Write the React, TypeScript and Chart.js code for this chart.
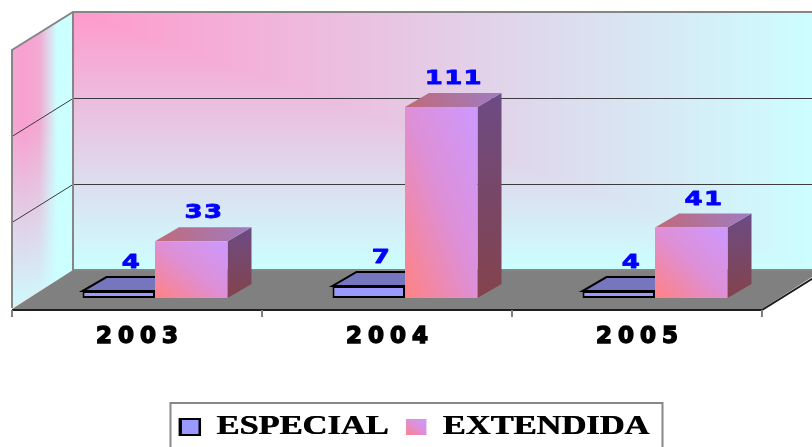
import React, { useEffect, useRef } from "react";
import { Chart, registerables } from "chart.js";

Chart.register(...registerables);

// ---------------- data ----------------
const categories = ["2003", "2004", "2005"];
const especialValues = [4, 7, 4];
const extendidaValues = [33, 111, 41];
const seriesLabels = ["ESPECIAL", "EXTENDIDA"];
const yTicks = [0, 50, 100, 150];

// ---------------- geometry / style ----------------
const W = 812;
const H = 447;
const CAT_PCT = 0.58;
const FX = 18; // bar front plane offset from the front edge of the plot box
const FY = 10;
const DX = 61; // full depth of the plot box
const DY = 38;
const BX = 24; // bar depth
const BY = 14;
const PINK = "#FF99CC";
const CYAN = "#CCFFFF";
const MID = "#E4CDE6";
const LEGEND_FONT = 27;
const BOX_W = 15;
const BOX_H = 16;
const LEG_SX = 1.275; // horizontal stretch of the legend
const LEG_CX = 414.5; // centre of that stretch
const LEG_DX = 9.5;
const LEG_DY = 3.5;
const TICK_SPACING = "6px";

function diagGradient(ctx: CanvasRenderingContext2D, x0: number, yT: number, x1: number, yB: number, stops: [number, string][]) {
  const w = x1 - x0;
  const h = yB - yT;
  const k = (2 * w * h) / (w * w + h * h || 1);
  const g = ctx.createLinearGradient(x0, yB, x0 + h * k, yB - w * k);
  stops.forEach(([o, c]) => g.addColorStop(o, c));
  return g;
}

const FRONT_STOPS: [number, string][] = [
  [0, "#FF8282"],
  [0.5, "#DE8FD6"],
  [1, "#CC99FF"],
];

function extFront(c: any) {
  const chart = c.chart;
  if (c.type !== "data" || !chart.chartArea || !chart.scales.x) return "#E08CCF";
  const xs = chart.scales.x;
  const ys = chart.scales.y;
  const catW = (xs.right - xs.left) / categories.length;
  const bw = (catW * CAT_PCT) / 2;
  const cx = xs.getPixelForValue(c.dataIndex);
  const yT = ys.getPixelForValue(c.raw);
  const yB = ys.getPixelForValue(0);
  return diagGradient(chart.ctx, cx, yT, cx + bw, yB, FRONT_STOPS);
}

function cornerFill(ctx: CanvasRenderingContext2D, x0: number, y0: number, w: number, h: number) {
  const gh = ctx.createLinearGradient(x0, 0, x0 + w, 0);
  gh.addColorStop(0, PINK);
  gh.addColorStop(0.5, MID);
  gh.addColorStop(1, CYAN);
  ctx.fillStyle = gh;
  ctx.fillRect(x0, y0, w, h);
  ctx.save();
  ctx.beginPath();
  ctx.moveTo(x0, y0);
  ctx.lineTo(x0 + w, y0 + h);
  ctx.lineTo(x0, y0 + h);
  ctx.closePath();
  ctx.clip();
  const gv = ctx.createLinearGradient(0, y0, 0, y0 + h);
  gv.addColorStop(0, PINK);
  gv.addColorStop(0.5, MID);
  gv.addColorStop(1, CYAN);
  ctx.fillStyle = gv;
  ctx.fillRect(x0, y0, w, h);
  ctx.restore();
}

function legX(x: number) {
  return LEG_CX + LEG_SX * (x - LEG_CX);
}

function stretchLegend(ctx: CanvasRenderingContext2D, shift: number) {
  ctx.translate(LEG_CX + shift, 0);
  ctx.scale(LEG_SX, 1);
  ctx.translate(-LEG_CX, 0);
}

const plot3d = {
  id: "plot3d",
  beforeLayout(chart: any) {
    chart.ctx.letterSpacing = "0px";
  },
  afterLayout(chart: any) {
    const lg = chart.legend;
    if (lg) {
      lg.left += LEG_DX;
      lg.right += LEG_DX;
      lg.top += LEG_DY;
      lg.bottom += LEG_DY;
    }
  },
  beforeDraw(chart: any) {
    const ctx: CanvasRenderingContext2D = chart.ctx;
    ctx.letterSpacing = "0px";
    // the legend (the only visible item drawn before the datasets) is stretched horizontally
    ctx.save();
    stretchLegend(ctx, 0);
  },
  beforeDatasetsDraw(chart: any) {
    const ctx: CanvasRenderingContext2D = chart.ctx;
    ctx.restore();
    // second, slightly offset pass of the legend for a heavier face
    if (chart.legend) {
      ctx.save();
      stretchLegend(ctx, 0.8);
      chart.legend.draw(chart.chartArea);
      ctx.restore();
    }
    const xs = chart.scales.x;
    const ys = chart.scales.y;
    const a = chart.chartArea;
    const fl = a.left - FX;
    const fr = a.right - FX;
    const fy = (v: number) => ys.getPixelForValue(v) + FY;
    const f0 = fy(0);
    const fTop = fy(yTicks[yTicks.length - 1]);
    const bl = fl + DX;
    const br = fr + DX;
    const b0 = f0 - DY;
    const bTop = fTop - DY;

    ctx.save();
    // back wall
    cornerFill(ctx, bl, bTop, br - bl, b0 - bTop);
    // left wall
    ctx.save();
    ctx.beginPath();
    ctx.moveTo(fl, fTop);
    ctx.lineTo(bl, bTop);
    ctx.lineTo(bl, b0);
    ctx.lineTo(fl, f0);
    ctx.closePath();
    ctx.clip();
    const lgH = ctx.createLinearGradient(fl, 0, bl, 0);
    lgH.addColorStop(0, "#F5A6D2");
    lgH.addColorStop(0.2, "#F8A0CF");
    lgH.addColorStop(0.45, "#F2AAD3");
    lgH.addColorStop(0.62, "#DCDDEC");
    lgH.addColorStop(0.74, CYAN);
    lgH.addColorStop(1, CYAN);
    ctx.fillStyle = lgH;
    ctx.fillRect(fl, bTop, bl - fl, f0 - bTop);
    const lgV = ctx.createLinearGradient(0, fy(105), 0, f0);
    lgV.addColorStop(0, "rgba(204,255,255,0)");
    lgV.addColorStop(1, "rgba(204,255,255,0.95)");
    ctx.fillStyle = lgV;
    ctx.fillRect(fl, bTop, bl - fl, f0 - bTop);
    ctx.restore();

    // floor
    ctx.fillStyle = "#808080";
    ctx.beginPath();
    ctx.moveTo(fl, f0 + 1);
    ctx.lineTo(bl, b0);
    ctx.lineTo(br, b0);
    ctx.lineTo(fr, f0 + 1);
    ctx.closePath();
    ctx.fill();

    // gridlines
    ctx.strokeStyle = "#3c3c3c";
    ctx.lineWidth = 1;
    yTicks.slice(1, -1).forEach((v) => {
      const y = Math.round(fy(v)) + 0.5;
      ctx.beginPath();
      ctx.moveTo(fl, y);
      ctx.lineTo(bl, y - DY);
      ctx.lineTo(br, y - DY);
      ctx.stroke();
    });

    // wall edges
    ctx.strokeStyle = "#868686";
    ctx.lineWidth = 2;
    ctx.beginPath();
    ctx.moveTo(fl, f0);
    ctx.lineTo(fl, fTop);
    ctx.lineTo(bl, bTop);
    ctx.lineTo(br, bTop);
    ctx.moveTo(bl, bTop);
    ctx.lineTo(bl, b0);
    ctx.lineTo(br, b0);
    ctx.stroke();

    // front and right floor edges
    ctx.strokeStyle = "#1e1e1e";
    ctx.lineWidth = 2;
    ctx.beginPath();
    ctx.moveTo(fl, f0 + 2);
    ctx.lineTo(fr, f0 + 2);
    ctx.lineTo(br, b0 + 2);
    ctx.stroke();

    // category tick marks
    ctx.strokeStyle = "#808080";
    ctx.lineWidth = 2;
    for (let i = 0; i <= categories.length; i++) {
      const x = xs.getPixelForValue(i - 0.5) - FX;
      ctx.beginPath();
      ctx.moveTo(x, f0 + 2);
      ctx.lineTo(x, f0 + 9);
      ctx.stroke();
    }

    // bar side and top faces
    chart.data.datasets.forEach((ds: any, di: number) => {
      const meta = chart.getDatasetMeta(di);
      meta.data.forEach((el: any) => {
        const { x, y, base, width } = el.getProps(["x", "y", "base", "width"], true);
        const x0 = x - width / 2;
        const x1 = x + width / 2;
        // side
        ctx.beginPath();
        ctx.moveTo(x1, y);
        ctx.lineTo(x1 + BX, y - BY);
        ctx.lineTo(x1 + BX, base - BY);
        ctx.lineTo(x1, base);
        ctx.closePath();
        if (di === 0) {
          ctx.fillStyle = "#5A5A9E";
        } else {
          const gs = ctx.createLinearGradient(0, y - BY, 0, base);
          gs.addColorStop(0, "#6C4B84");
          gs.addColorStop(1, "#84434C");
          ctx.fillStyle = gs;
        }
        ctx.fill();
        // top
        ctx.beginPath();
        ctx.moveTo(x0, y);
        ctx.lineTo(x1, y);
        ctx.lineTo(x1 + BX, y - BY);
        ctx.lineTo(x0 + BX, y - BY);
        ctx.closePath();
        if (di === 0) {
          ctx.fillStyle = "#7676BE";
          ctx.fill();
          ctx.strokeStyle = "#000";
          ctx.lineWidth = 2;
          ctx.stroke();
        } else {
          const gt = ctx.createLinearGradient(x0, y, x1 + BX, y - BY);
          gt.addColorStop(0, "#C06A7A");
          gt.addColorStop(1, "#A07CC2");
          ctx.fillStyle = gt;
          ctx.fill();
        }
      });
    });
    ctx.restore();
  },
  afterDatasetsDraw(chart: any) {
    const ctx: CanvasRenderingContext2D = chart.ctx;
    ctx.save();
    ctx.letterSpacing = "1px";
    ctx.font = 'bold 20px "DejaVu Sans"';
    ctx.fillStyle = "#0000FF";
    ctx.strokeStyle = "#0000FF";
    ctx.lineWidth = 0.8;
    ctx.lineJoin = "round";
    ctx.textAlign = "center";
    ctx.textBaseline = "middle";
    chart.data.datasets.forEach((ds: any, di: number) => {
      const meta = chart.getDatasetMeta(di);
      meta.data.forEach((el: any, i: number) => {
        const { x, y } = el.getProps(["x", "y"], true);
        ctx.save();
        ctx.translate(x + 12, y - 28);
        ctx.scale(1.3, 1);
        const t = String(ds.data[i]);
        ctx.strokeText(t, 0.5, 0);
        ctx.fillText(t, 0.5, 0);
        ctx.restore();
      });
    });
    ctx.restore();
    ctx.letterSpacing = TICK_SPACING;
  },
  afterDraw(chart: any) {
    const ctx: CanvasRenderingContext2D = chart.ctx;
    ctx.letterSpacing = "0px";
    const lg = chart.legend;
    if (!lg || !lg.legendHitBoxes || lg.legendHitBoxes.length < 2) return;
    const h0 = lg.legendHitBoxes[0];
    const h1 = lg.legendHitBoxes[1];
    ctx.save();
    const bx = legX(h1.left);
    const bw = legX(h1.left + BOX_W) - bx + 1;
    const by = h1.top + Math.max((LEGEND_FONT - BOX_H) / 2, 0);
    ctx.fillStyle = diagGradient(ctx, bx, by, bx + bw, by + BOX_H, FRONT_STOPS);
    ctx.fillRect(bx, by, bw, BOX_H);
    // legend frame
    ctx.strokeStyle = "#888888";
    ctx.lineWidth = 2;
    const left = Math.round(legX(h0.left) - 10) + 0.5;
    const right = Math.round(legX(h1.left + h1.width) + 13) + 0.5;
    const top = Math.round(h0.top - 10.5);
    ctx.beginPath();
    ctx.moveTo(left, H + 5);
    ctx.lineTo(left, top);
    ctx.lineTo(right, top);
    ctx.lineTo(right, H + 5);
    ctx.stroke();
    ctx.restore();
  },
};

export default function App() {
  const ref = useRef<HTMLCanvasElement>(null);
  useEffect(() => {
    const canvas = ref.current;
    if (!canvas) return;
    const chart = new Chart(canvas, {
      type: "bar",
      data: {
        labels: categories,
        datasets: [
          {
            label: seriesLabels[0],
            data: especialValues,
            backgroundColor: "#9999FF",
            borderColor: "#000000",
            borderWidth: 2,
            borderSkipped: false,
            categoryPercentage: CAT_PCT,
            barPercentage: 1,
          },
          {
            label: seriesLabels[1],
            data: extendidaValues,
            backgroundColor: extFront as any,
            borderWidth: 0,
            categoryPercentage: CAT_PCT,
            barPercentage: 1,
          },
        ],
      },
      options: {
        responsive: false,
        animation: false,
        events: [],
        layout: { padding: { left: 30, right: 32, top: 40, bottom: 0 } },
        scales: {
          x: {
            grid: { display: false },
            border: { display: false },
            ticks: {
              z: 1,
              padding: 17,
              labelOffset: -FX + 3,
              color: "#000000",
              textStrokeColor: "#000000",
              textStrokeWidth: 1.5,
              font: { family: "DejaVu Sans", weight: "bold", size: 23 },
            },
            afterFit: (s: any) => {
              s.height = 98;
            },
          },
          y: { display: false, min: 0, max: 150 },
        },
        plugins: {
          tooltip: { enabled: false },
          legend: {
            position: "bottom",
            labels: {
              boxWidth: BOX_W,
              boxHeight: BOX_H,
              padding: 14,
              color: "#000000",
              font: { family: "Liberation Serif", weight: "bold", size: LEGEND_FONT },
              generateLabels: () => [
                { text: seriesLabels[0], fillStyle: "#9999FF", strokeStyle: "#000000", lineWidth: 2, datasetIndex: 0, hidden: false },
                { text: seriesLabels[1], fillStyle: "#E08CCF", strokeStyle: "rgba(0,0,0,0)", lineWidth: 0, datasetIndex: 1, hidden: false },
              ],
            },
          },
        },
      } as any,
      plugins: [plot3d as any],
    });
    return () => chart.destroy();
  }, []);
  return (
    <div style={{ position: "absolute", left: 0, top: 0, width: W, height: H }}>
      <canvas ref={ref} width={W} height={H} style={{ display: "block", width: W, height: H }} />
    </div>
  );
}
